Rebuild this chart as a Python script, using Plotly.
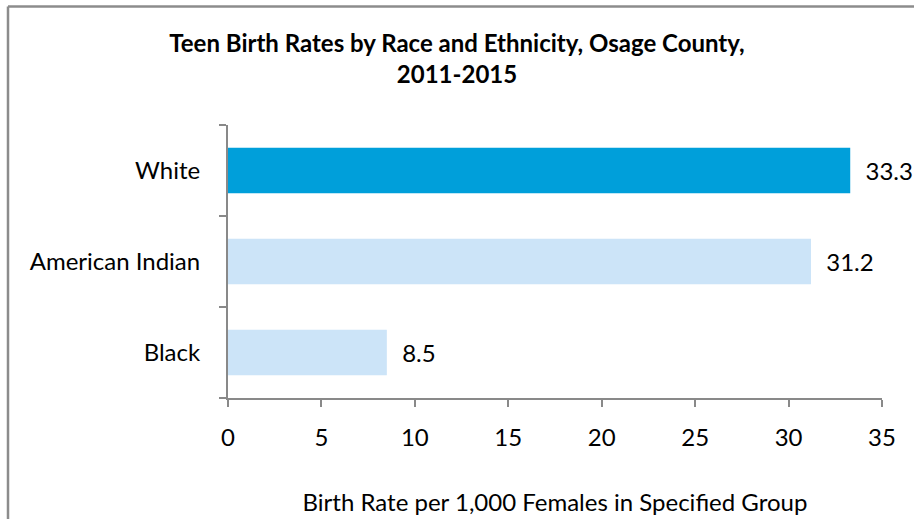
import plotly.graph_objects as go

categories = ["White", "American Indian", "Black"]
values = [33.3, 31.2, 8.5]
labels = ["33.3", "31.2", "8.5"]
colors = ["#009FDA", "#CCE4F8", "#CCE4F8"]
x_ticks = [0, 5, 10, 15, 20, 25, 30, 35]

W, H = 914, 519
L, R, T, B = 228, 32, 125, 121
pw, ph = W - L - R, H - T - B

fig = go.Figure(go.Bar(
    y=categories, x=values, orientation="h",
    marker=dict(color=colors, line=dict(width=0)),
    text=labels, texttemplate="  %{text}", textposition="outside", cliponaxis=False,
    textfont=dict(size=24, color="#000000", family="Lato"),
    width=0.5,
))

bx = (8 - L) / pw          # left border, paper coords
by = (H - B - 6.5) / ph    # top border, paper coords

fig.update_layout(
    width=W, height=H,
    margin=dict(l=L, r=R, t=T, b=B, pad=0),
    paper_bgcolor="white", plot_bgcolor="white",
    showlegend=False,
    font=dict(family="Lato", size=24, color="#000000"),
    title=dict(
        text="<b>Teen Birth Rates by Race and Ethnicity, Osage County,<br>2011-2015</b>",
        x=457 / W, xanchor="center", y=1 - 52 / H, yanchor="top",
        font=dict(size=24, family="Lato", color="#000000"),
    ),
    xaxis=dict(
        range=[0, 35], tickvals=x_ticks, ticktext=[str(v) for v in x_ticks],
        showgrid=False, zeroline=False, showline=True, linecolor="#898989", linewidth=2,
        ticks="outside", ticklen=7, tickwidth=2, tickcolor="#898989",
        tickfont=dict(size=24), fixedrange=True, automargin=False,
        ticklabelstandoff=10,
        title=dict(text="Birth Rate per 1,000 Females in Specified Group", font=dict(size=24), standoff=44),
    ),
    yaxis=dict(
        categoryorder="array", categoryarray=categories[::-1],
        showgrid=False, zeroline=False, showline=True, linecolor="#898989", linewidth=2,
        ticks="outside", ticklen=7, tickwidth=2, tickcolor="#898989", tickson="boundaries",
        tickfont=dict(size=24), automargin=False, ticklabelstandoff=21, fixedrange=True,
    ),
    shapes=[
        dict(type="line", xref="paper", yref="paper", x0=bx, x1=1.2, y0=by, y1=by,
             line=dict(color="#8C8C8C", width=2.5), layer="above"),
        dict(type="line", xref="paper", yref="paper", x0=bx, x1=bx, y0=-1.0, y1=by,
             line=dict(color="#8C8C8C", width=2.5), layer="above"),
    ],
)

fig.write_html("out.html", config={"displayModeBar": False},
               post_script="document.body.style.margin='0';")
